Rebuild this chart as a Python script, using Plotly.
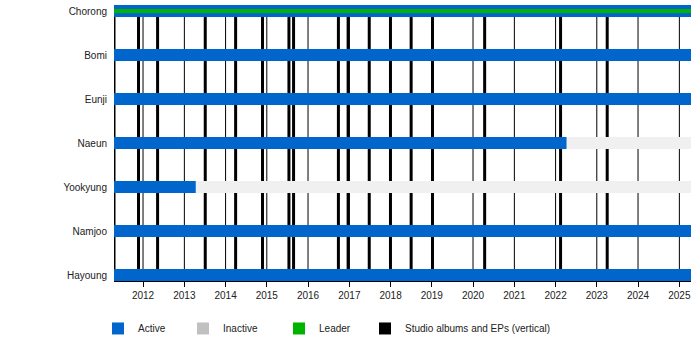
import plotly.graph_objects as go
import pandas as pd

# ---------------- data ----------------
members = ["Chorong", "Bomi", "Eunji", "Naeun", "Yookyung", "Namjoo", "Hayoung"]
active_start = ["2011-04-19"] * 7
active_end = ["2025-04-14", "2025-04-14", "2025-04-14", "2022-04-08",
              "2013-04-12", "2025-04-14", "2025-04-14"]
inactive_start = [None, None, None, "2022-04-08", "2013-04-12", None, None]
inactive_end = [None, None, None, "2025-04-14", "2025-04-14", None, None]
leader_members = ["Chorong"]
leader_start = ["2011-04-19"]
leader_end = ["2025-04-14"]
album_dates = ["2011-04-19", "2011-11-22", "2012-05-09", "2013-07-05",
               "2014-03-31", "2014-11-24", "2015-07-16", "2015-08-26",
               "2016-09-26", "2016-12-21", "2017-06-26", "2017-12-31",
               "2018-07-02", "2019-01-07", "2020-04-13", "2022-02-14",
               "2023-04-03"]
year_ticks = list(range(2012, 2026))
timeline_start = "2011-04-19"
timeline_end = "2025-04-14"

# ---------------- styling ----------------
BLUE = "#0066cc"
GREEN = "#00b300"
BAND = "#f0f0f0"
LEG_GRAY = "#c0c0c0"
FONT = "Liberation Sans, Arial, sans-serif"
TXT = "#222222"
ROW_H = 12 / 44
LEAD_H = 4 / 44

n = len(members)
row_of = {m: n - 1 - i for i, m in enumerate(members)}


def dur_ms(a, b):
    return (pd.to_datetime(b) - pd.to_datetime(a)).total_seconds() * 1000.0


fig = go.Figure()

# active bars
fig.add_trace(go.Bar(
    orientation="h",
    y=[row_of[m] for m in members],
    base=active_start,
    x=[dur_ms(s, e) for s, e in zip(active_start, active_end)],
    width=ROW_H,
    marker=dict(color=BLUE, line=dict(width=0)),
    name="Active", legend="legend", hoverinfo="skip",
))
# inactive legend entry
fig.add_trace(go.Bar(
    orientation="h", x=[None], y=[None],
    marker=dict(color=LEG_GRAY, line=dict(width=0)),
    name="Inactive", legend="legend2", hoverinfo="skip",
))
# leader
fig.add_trace(go.Bar(
    orientation="h",
    y=[row_of[m] for m in leader_members],
    base=leader_start,
    x=[dur_ms(s, e) for s, e in zip(leader_start, leader_end)],
    width=LEAD_H,
    marker=dict(color=GREEN, line=dict(width=0)),
    name="Leader", legend="legend3", hoverinfo="skip",
))
# albums legend entry
fig.add_trace(go.Bar(
    orientation="h", x=[None], y=[None],
    marker=dict(color="black", line=dict(width=0)),
    name="Studio albums and EPs (vertical)", legend="legend4", hoverinfo="skip",
))

shapes = []
# inactive bands
for m, s, e in zip(members, inactive_start, inactive_end):
    if s is None:
        continue
    r = row_of[m]
    shapes.append(dict(type="rect", xref="x", yref="y", x0=s, x1=e,
                       y0=r - ROW_H / 2, y1=r + ROW_H / 2,
                       fillcolor=BAND, line=dict(width=0), layer="below"))
# year lines
for yv in year_ticks:
    d = f"{yv}-01-01"
    shapes.append(dict(type="line", xref="x", yref="paper", x0=d, x1=d, y0=0, y1=1,
                       line=dict(color="black", width=1), layer="below"))
# album lines
for d in album_dates:
    shapes.append(dict(type="line", xref="x", yref="paper", x0=d, x1=d, y0=0, y1=1,
                       line=dict(color="black", width=3), layer="below"))

fig.update_layout(
    width=700, height=350,
    margin=dict(l=114, r=9, t=5, b=69),
    paper_bgcolor="white", plot_bgcolor="white",
    barmode="overlay",
    shapes=shapes,
    font=dict(family=FONT, size=10, color=TXT),
    showlegend=True,
)

leg_common = dict(orientation="h", yanchor="middle", y=-0.172, xanchor="left",
                  bgcolor="rgba(0,0,0,0)", borderwidth=0,
                  font=dict(family=FONT, size=10, color=TXT))
fig.update_layout(
    legend=dict(x=-0.0277, **leg_common),
    legend2=dict(x=0.1196, **leg_common),
    legend3=dict(x=0.286, **leg_common),
    legend4=dict(x=0.435, **leg_common),
)

fig.update_xaxes(
    type="date", range=[timeline_start, timeline_end],
    tickvals=[f"{yv}-01-01" for yv in year_ticks],
    ticktext=[str(yv) for yv in year_ticks],
    showgrid=False, zeroline=False,
    showline=True, linecolor="black", linewidth=1,
    ticks="outside", ticklen=5, tickwidth=1, tickcolor="black",
    tickfont=dict(family=FONT, size=10, color=TXT),
    fixedrange=True,
)
fig.update_yaxes(
    range=[-ROW_H / 2, n - 1 + ROW_H / 2],
    tickvals=[row_of[m] for m in members],
    ticktext=members,
    showgrid=False, zeroline=False, showline=False, ticks="",
    ticklabelstandoff=6,
    tickfont=dict(family=FONT, size=10, color=TXT),
    fixedrange=True,
)

fig.write_html("out.html")
